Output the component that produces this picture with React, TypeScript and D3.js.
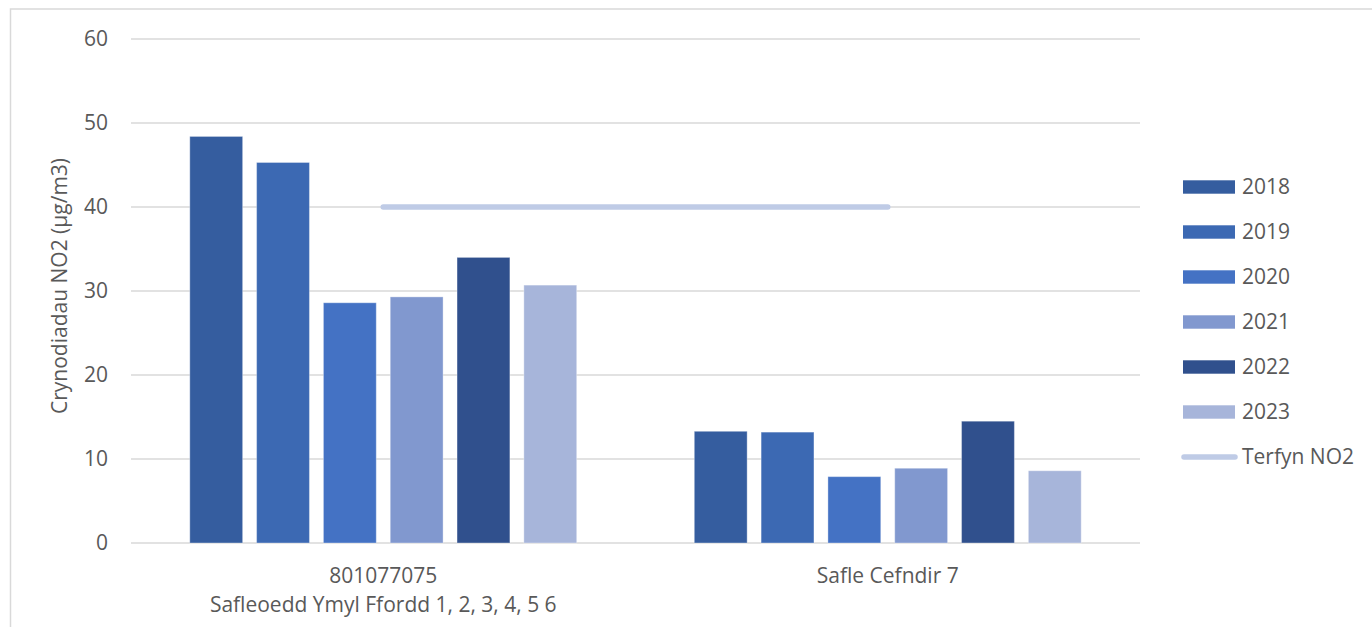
import React from "react";
import * as d3 from "d3";

const categories = ["801077075|Safleoedd Ymyl Ffordd 1, 2, 3, 4, 5 6", "Safle Cefndir 7"];
const years = ["2018", "2019", "2020", "2021", "2022", "2023"];
const values2018 = [48.4, 13.3];
const values2019 = [45.3, 13.2];
const values2020 = [28.6, 7.9];
const values2021 = [29.3, 8.9];
const values2022 = [34.0, 14.5];
const values2023 = [30.7, 8.6];
const limitValues = [40, 40];
const limitLabel = "Terfyn NO2";
const yTicks = [0, 10, 20, 30, 40, 50, 60];
const yTitle = "Crynodiadau NO2 (µg/m3)";

const seriesValues = [values2018, values2019, values2020, values2021, values2022, values2023];
const colors = ["#355D9F", "#3C69B3", "#4472C4", "#8198CF", "#30508D", "#A7B5DA"];
const lineColor = "#BFCBE6";
const textColor = "#595959";
const FONT = "'Open Sans', 'Liberation Sans', sans-serif";
const FS = 21;

export default function App() {
  const W = 1372, H = 627;
  const left = 131, right = 1140, top = 39, bottom = 543;
  const y = d3.scaleLinear().domain([0, 60]).range([bottom, top]);
  const x0 = d3.scaleBand<string>().domain(categories).range([left, right]).paddingInner(0).paddingOuter(0);
  const x1 = d3.scaleBand<string>().domain(years).range([0, x0.bandwidth()]).paddingInner(0.209).paddingOuter(0.88);

  const lineGen = d3.line<number>()
    .x((_, i) => (x0(categories[i]) as number) + x0.bandwidth() / 2)
    .y((d) => y(d));

  return (
    <svg width={W} height={H} style={{ position: "absolute", left: 0, top: 0, background: "#fff" }} fontFamily={FONT}>
      <rect x={10.5} y={9} width={W + 10} height={H + 10} fill="#fff" stroke="#D9D9D9" strokeWidth={1.5} />
      {yTicks.map((t) => (
        <g key={t}>
          <line x1={left} x2={right} y1={y(t)} y2={y(t)} stroke="#D9D9D9" strokeWidth={1.3} />
          <text x={108} y={y(t)} dy="0.35em" textAnchor="end" fontSize={FS} fill={textColor}>{t}</text>
        </g>
      ))}
      <text transform={`translate(67,286) rotate(-90)`} textAnchor="middle" fontSize={FS} fill={textColor}>{yTitle}</text>
      {categories.map((c, ci) => (
        <g key={c}>
          {years.map((yr, si) => {
            const v = seriesValues[si][ci];
            const bx = (x0(c) as number) + (x1(yr) as number);
            return (
              <rect key={yr} x={bx} y={y(v)} width={x1.bandwidth()} height={y(0) - y(v)} fill={colors[si]} stroke="rgba(255,255,255,0.35)" strokeWidth={1} />
            );
          })}
          {c.split("|").map((line, li) => (
            <text key={li} x={(x0(c) as number) + x0.bandwidth() / 2} y={583 + li * 29} textAnchor="middle" fontSize={FS} fill={textColor}>{line}</text>
          ))}
        </g>
      ))}
      <path d={lineGen(limitValues) || ""} fill="none" stroke={lineColor} strokeWidth={5.5} strokeLinecap="round" />
      {years.map((yr, i) => (
        <g key={yr}>
          <rect x={1183} y={187 + i * 45 - 6.7} width={52} height={13.4} fill={colors[i]} />
          <text x={1242} y={187 + i * 45} dy="0.35em" fontSize={FS} fill={textColor}>{yr}</text>
        </g>
      ))}
      <line x1={1184} x2={1235} y1={457} y2={457} stroke={lineColor} strokeWidth={5.5} strokeLinecap="round" />
      <text x={1242} y={457} dy="0.35em" fontSize={FS} fill={textColor}>{limitLabel}</text>
    </svg>
  );
}
